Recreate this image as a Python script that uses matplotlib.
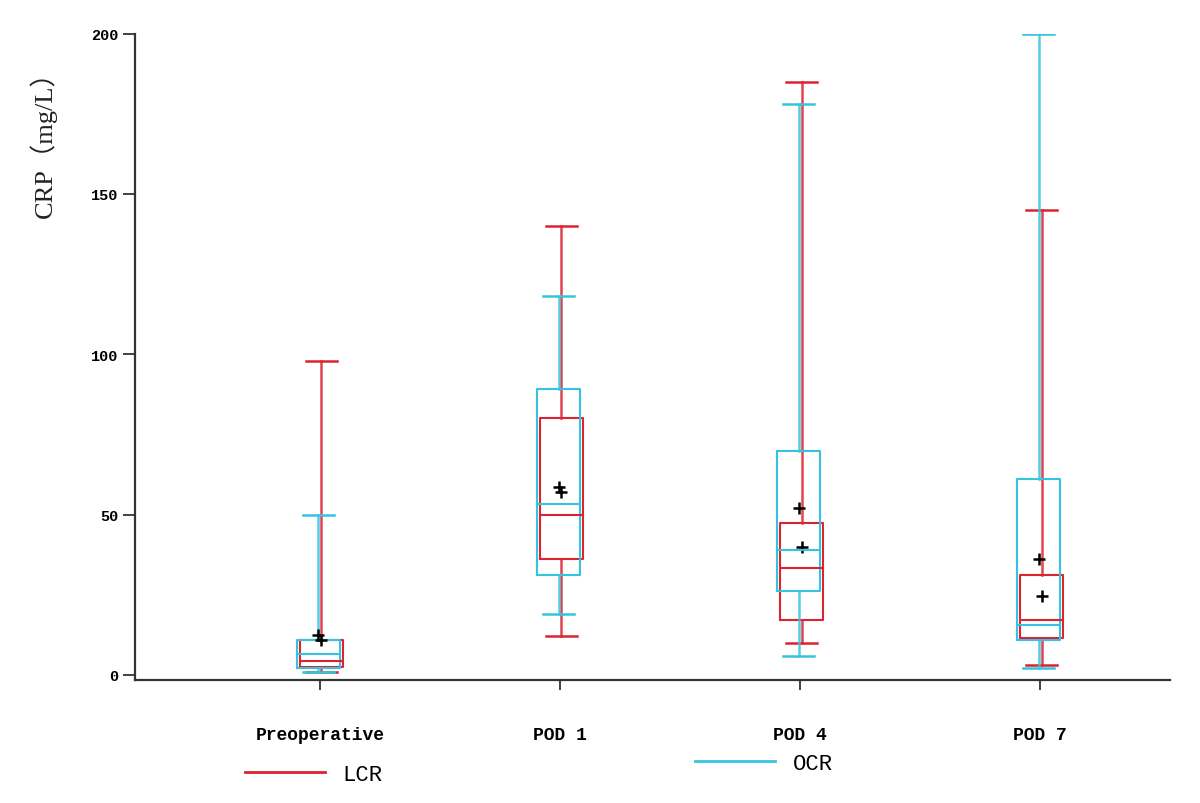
import numpy as np
import matplotlib.pyplot as plt

groups = ['Preoperative', 'POD 1', 'POD 4', 'POD 7']

# LCR five-number summaries + mean (mg/L)
lcr_low = [1, 12, 10, 3]
lcr_q1 = [2.5, 36, 17, 11.5]
lcr_med = [4.4, 49.7, 33.4, 17]
lcr_q3 = [11, 80, 47.5, 31]
lcr_high = [98, 140, 185, 145]
lcr_mean = [11, 57, 40, 24.7]

# OCR
ocr_low = [1, 19, 6, 2]
ocr_q1 = [2, 31, 26, 11]
ocr_med = [6.5, 53.4, 39, 15.6]
ocr_q3 = [11, 89, 69.7, 61]
ocr_high = [50, 118, 178, 200]
ocr_mean = [12.5, 58.5, 52, 36]

red = '#dc2330'
cyan = '#35c4df'


def stats(lo, q1, med, q3, hi, mean):
    return [dict(whislo=a, q1=b, med=c, q3=d, whishi=e, mean=f, fliers=[])
            for a, b, c, d, e, f in zip(lo, q1, med, q3, hi, mean)]


fig = plt.figure(figsize=(12, 8.04), dpi=100)
ax = fig.add_axes([0.1125, 0.153, 0.8625, 0.804])

pos = np.arange(1, len(groups) + 1)
mean_style = dict(marker='+', markeredgecolor='black', markersize=9, markeredgewidth=1.8)

for st, col, off in [(stats(lcr_low, lcr_q1, lcr_med, lcr_q3, lcr_high, lcr_mean), red, 0.006),
                     (stats(ocr_low, ocr_q1, ocr_med, ocr_q3, ocr_high, ocr_mean), cyan, -0.006)]:
    ax.bxp(st, positions=pos + off, widths=0.18, capwidths=0.13, showmeans=True,
           boxprops=dict(color=col, linewidth=1.5),
           medianprops=dict(color=col, linewidth=1.5),
           whiskerprops=dict(color=col, linewidth=1.8, alpha=0.85),
           capprops=dict(color=col, linewidth=1.8),
           meanprops=mean_style, manage_ticks=False)

ax.set_xlim(0.23, 4.54)
ax.set_ylim(-1.6, 200)
ax.set_xticks(pos)
ax.set_xticklabels(groups, family='Liberation Mono', fontweight='bold', fontsize=13)
ax.set_yticks([0, 50, 100, 150, 200])
ax.set_yticklabels(['0', '50', '100', '150', '200'], family='Liberation Mono',
                   fontweight='bold', fontsize=11)
ax.tick_params(axis='y', length=9, width=1.3, color='#333333', pad=3)
ax.tick_params(axis='x', length=7, width=1.3, color='#333333', pad=26)
for s in ['top', 'right']:
    ax.spines[s].set_visible(False)
for s in ['left', 'bottom']:
    ax.spines[s].set_color('#333333')
    ax.spines[s].set_linewidth(1.6)

ax.set_ylabel('CRP（mg/L）', family=['Liberation Serif', 'Noto Sans CJK SC'],
              fontsize=19, color='#222222')
ax.yaxis.set_label_coords(-0.075, 0.84)

h1, = ax.plot([], [], color=red, linewidth=2, label='LCR')
h2, = ax.plot([], [], color=cyan, linewidth=2, label='OCR')
leg_font = dict(family='Liberation Mono', size=16)
l1 = fig.legend(handles=[h1], loc='center left', bbox_to_anchor=(0.204, 0.036),
                frameon=False, handlelength=3.6, borderpad=0, borderaxespad=0,
                prop=leg_font)
l2 = fig.legend(handles=[h2], loc='center left', bbox_to_anchor=(0.579, 0.049),
                frameon=False, handlelength=3.6, borderpad=0, borderaxespad=0,
                prop=leg_font)

plt.savefig('out.png', dpi=100)
